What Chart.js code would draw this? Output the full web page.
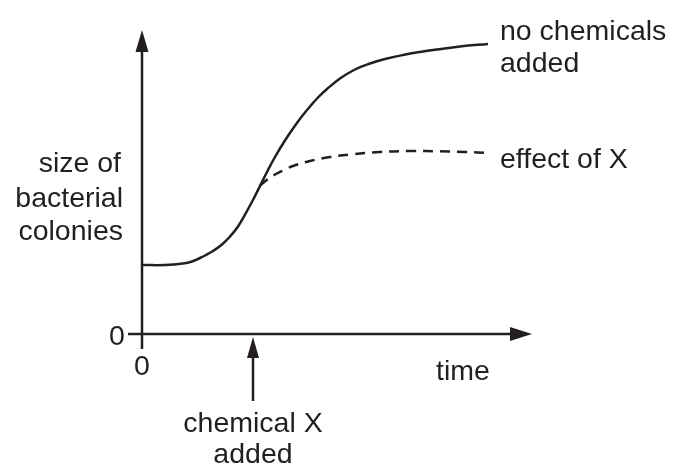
<!DOCTYPE html>
<html>
<head>
<meta charset="utf-8">
<script src="https://cdn.jsdelivr.net/npm/chart.js@4.4.1/dist/chart.umd.min.js"></script>
<style>
  html, body { margin: 0; padding: 0; background: #fff; }
  #wrap { width: 674px; height: 467px; }
</style>
</head>
<body>
<div id="wrap"><canvas id="growthChart" width="674" height="467"></canvas></div>
<script>
// time (arbitrary units) and colony size
const controlTime = [0, 2.3, 4.1, 5.0, 5.8, 6.4, 7.1, 8.0, 8.8, 9.6, 10.5, 11.2, 11.8, 12.6, 13.3,
  14.2, 15.1, 15.9, 16.8, 17.6, 18.5, 19.8, 21.3, 22.8, 24.3, 26.1, 27.8, 29.5, 31.8, 34.6];
const controlSize = [6.9, 6.9, 7.05, 7.25, 7.6, 7.9, 8.3, 8.95, 9.75, 10.75, 12.3, 13.6, 14.8, 16.4, 17.7,
  19.2, 20.55, 21.65, 22.75, 23.65, 24.5, 25.55, 26.45, 27.05, 27.5, 27.9, 28.2, 28.45, 28.75, 29.0];
const effectTime = [11.8, 12.6, 13.4, 14.3, 15.1, 16.8, 18.5, 20.8, 23.8, 26.8, 29.8, 32.3, 34.8];
const effectSize = [14.85, 15.5, 16.0, 16.45, 16.8, 17.3, 17.65, 17.95, 18.2, 18.3, 18.27, 18.2, 18.1];
const chemicalAddedAt = 11.1;
const xMax = 39;
const yMax = 30.4;

const ink = '#231f20';
const font = '28.5px "Liberation Sans", Arial, sans-serif';

const toPoints = (xs, ys) => xs.map((x, i) => ({ x: x, y: ys[i] }));

// axes with arrowheads, the "chemical X added" arrow and all text labels
const sketchPlugin = {
  id: 'sketch',
  afterDraw(chart) {
    const ctx = chart.ctx;
    const xs = chart.scales.x;
    const ys = chart.scales.y;
    const x0 = xs.getPixelForValue(0);
    const y0 = ys.getPixelForValue(0);
    const xEnd = xs.getPixelForValue(xMax);
    const yTop = ys.getPixelForValue(yMax);

    ctx.save();
    ctx.strokeStyle = ink;
    ctx.fillStyle = ink;
    ctx.lineWidth = 2.5;

    // y axis (with tick below the x axis)
    ctx.beginPath();
    ctx.moveTo(x0, y0 + 15);
    ctx.lineTo(x0, yTop + 18);
    ctx.stroke();
    ctx.beginPath();
    ctx.moveTo(x0, yTop);
    ctx.lineTo(x0 - 6.5, yTop + 22);
    ctx.lineTo(x0 + 6.5, yTop + 22);
    ctx.closePath();
    ctx.fill();

    // x axis (with tick left of the y axis)
    ctx.beginPath();
    ctx.moveTo(x0 - 14, y0);
    ctx.lineTo(xEnd - 18, y0);
    ctx.stroke();
    ctx.beginPath();
    ctx.moveTo(xEnd, y0);
    ctx.lineTo(xEnd - 22, y0 - 7);
    ctx.lineTo(xEnd - 22, y0 + 7);
    ctx.closePath();
    ctx.fill();

    // chemical X added arrow
    const cx = xs.getPixelForValue(chemicalAddedAt);
    ctx.beginPath();
    ctx.moveTo(cx, y0 + 67);
    ctx.lineTo(cx, y0 + 20);
    ctx.stroke();
    ctx.beginPath();
    ctx.moveTo(cx, y0 + 3);
    ctx.lineTo(cx - 6, y0 + 24);
    ctx.lineTo(cx + 6, y0 + 24);
    ctx.closePath();
    ctx.fill();

    // labels
    ctx.font = font;
    ctx.textBaseline = 'alphabetic';
    ctx.textAlign = 'center';
    ctx.fillText('0', x0 - 25, y0 + 11);
    ctx.fillText('0', x0, y0 + 41);
    ctx.fillText('chemical X', cx, y0 + 98);
    ctx.fillText('added', cx, y0 + 129);

    ctx.textAlign = 'right';
    ctx.fillText('size of', 121, 172);
    ctx.fillText('bacterial', 123, 207);
    ctx.fillText('colonies', 123, 240);

    ctx.textAlign = 'left';
    ctx.fillText('no chemicals', 500, 40);
    ctx.fillText('added', 500, 72);
    ctx.fillText('effect of X', 500, 168);
    ctx.fillText('time', 436, 380);
    ctx.restore();
  },
};

new Chart(document.getElementById('growthChart').getContext('2d'), {
  type: 'line',
  data: {
    datasets: [
      {
        label: 'no chemicals added',
        data: toPoints(controlTime, controlSize),
        borderColor: ink,
        borderWidth: 2.5,
        pointRadius: 0,
        tension: 0.4,
        fill: false,
      },
      {
        label: 'effect of X',
        data: toPoints(effectTime, effectSize),
        borderColor: ink,
        borderWidth: 2.5,
        borderDash: [10, 7],
        pointRadius: 0,
        tension: 0.4,
        fill: false,
      },
    ],
  },
  options: {
    responsive: false,
    animation: false,
    layout: { padding: { left: 142, top: 30, right: 142, bottom: 133 } },
    plugins: { legend: { display: false }, tooltip: { enabled: false } },
    scales: {
      x: { type: 'linear', min: 0, max: xMax, display: false },
      y: { type: 'linear', min: 0, max: yMax, display: false },
    },
  },
  plugins: [sketchPlugin],
});
</script>
</body>
</html>
